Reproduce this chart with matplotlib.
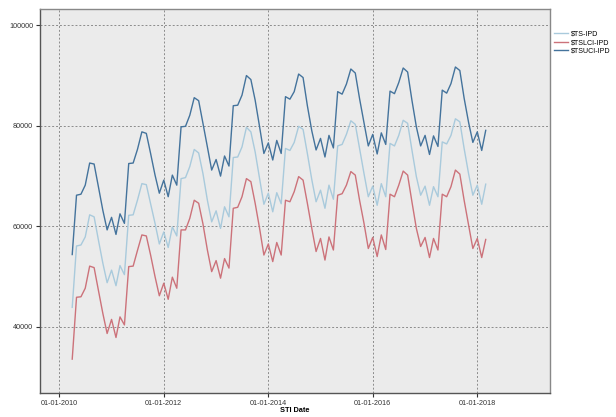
import numpy as np
import pandas as pd
import matplotlib
matplotlib.use('Agg')
import matplotlib.pyplot as plt
import matplotlib.dates as mdates

plt.rcParams['font.family'] = ['Liberation Sans', 'DejaVu Sans']

# monthly points, Apr 2010 .. Mar 2018
start_month = '2010-04-01'
n_months = 96

# upper confidence limit
ts_uci = [54400, 66200, 66400, 68200, 72600, 72400, 67900, 63200, 59300,
          61800, 58400, 62500, 60600, 72500, 72600, 75300, 78800, 78500, 74500, 70200, 66600,
          69200, 65900, 70200, 68200, 79800, 79900, 82100, 85600, 85000, 80500, 75800, 71200,
          73300, 70000, 74000, 72000, 84000, 84100, 86100, 90000, 89200, 85100, 79800, 74500,
          76600, 73200, 77100, 74500, 85800, 85300, 86800, 90300, 89600, 84000, 79000, 75200,
          77500, 73800, 78100, 75600, 86800, 86300, 88300, 91300, 90500, 85400, 80600, 76000,
          78300, 74400, 78600, 76300, 86900, 86400, 88600, 91500, 90700, 85100, 79800, 76000,
          78100, 74300, 78000, 75900, 87100, 86500, 88400, 91700, 91000, 85500, 80700, 76700,
          78800, 75100, 79100]

# forecast
ts = [43900, 56100, 56300, 57900, 62300, 61900, 57300, 52700, 48800,
      51300, 48200, 52200, 50400, 62200, 62300, 65200, 68500, 68300, 64500, 60600, 56500,
      58900, 55800, 59900, 58100, 69500, 69700, 71900, 75300, 74600, 70500, 65200, 60900,
      63100, 59600, 63900, 61900, 73700, 73800, 75800, 79700, 78800, 74800, 69500, 64400,
      66600, 62900, 66700, 64500, 75500, 75100, 76700, 79900, 79300, 74500, 69300, 64900,
      67200, 63600, 68200, 65400, 76000, 76300, 78300, 81000, 80300, 75500, 70500, 65900,
      68000, 64200, 68500, 65900, 76500, 76000, 78100, 81100, 80500, 75200, 69900, 66200,
      68000, 64200, 67900, 65900, 76800, 76400, 78100, 81400, 80800, 75500, 70500, 66200,
      68200, 64400, 68400]

# lower confidence limit
ts_lci = [33600, 45900, 46000, 47700, 52100, 51800, 47300, 42700, 38700,
          41500, 37900, 42000, 40400, 52000, 52100, 55200, 58300, 58100, 54300, 50000, 46200,
          48700, 45500, 49900, 47700, 59300, 59300, 61600, 65200, 64600, 60500, 55300, 51000,
          53200, 49700, 53600, 51700, 63600, 63800, 65900, 69500, 68900, 64600, 59600, 54300,
          56500, 53000, 56800, 54300, 65200, 64900, 66900, 69900, 69200, 64600, 59600, 55000,
          57600, 53300, 57900, 55300, 66200, 66500, 68200, 70900, 70200, 65200, 60600, 55600,
          57800, 54000, 58300, 55400, 66400, 65900, 68200, 71000, 70200, 64900, 59600, 56000,
          57800, 53800, 57600, 55300, 66400, 65900, 67900, 71200, 70400, 65200, 60300, 55600,
          57600, 53800, 57400]

labels = ['$TS-IPD', '$TSLCI-IPD', '$TSUCI-IPD']
colors = ['#a9cadc', '#cc727a', '#44739c']

dates = pd.date_range(start_month, periods=n_months, freq='MS')

fig = plt.figure(figsize=(6.16, 4.17), dpi=100)
ax = fig.add_axes([0.065, 0.058, 0.828, 0.92])
ax.set_facecolor('#ebebeb')

for y, lab, c in zip([ts, ts_lci, ts_uci], labels, colors):
    ax.plot(dates, y, color=c, lw=1.0, label=lab.replace('$', r'\$'))

ax.set_xlim(pd.Timestamp('2009-08-19'), pd.Timestamp('2019-05-25'))
ax.set_ylim(26900, 103200)
ax.set_yticks([40000, 60000, 80000, 100000])
ax.xaxis.set_major_locator(mdates.YearLocator(2))
ax.xaxis.set_major_formatter(mdates.DateFormatter('%d-%m-%Y'))

ax.grid(True, color='#8c8c8c', ls=(0, (2, 2)), lw=0.7)
ax.set_axisbelow(True)
ax.tick_params(labelsize=5.2, colors='#333333', length=3, width=0.8, pad=2)
for s in ax.spines.values():
    s.set_color('#555555')
    s.set_linewidth(1.0)
ax.spines['top'].set_color('#888888')
ax.spines['right'].set_color('#888888')

ax.set_xlabel('STI Date', fontsize=5.3, fontweight='bold', labelpad=0.5)

leg = ax.legend(loc='upper left', bbox_to_anchor=(1.0, 0.955), frameon=False,
                fontsize=5.1, handlelength=1.9, handletextpad=0.4,
                labelspacing=0.2, borderaxespad=0.2)

fig.savefig('out.png', dpi=100)
